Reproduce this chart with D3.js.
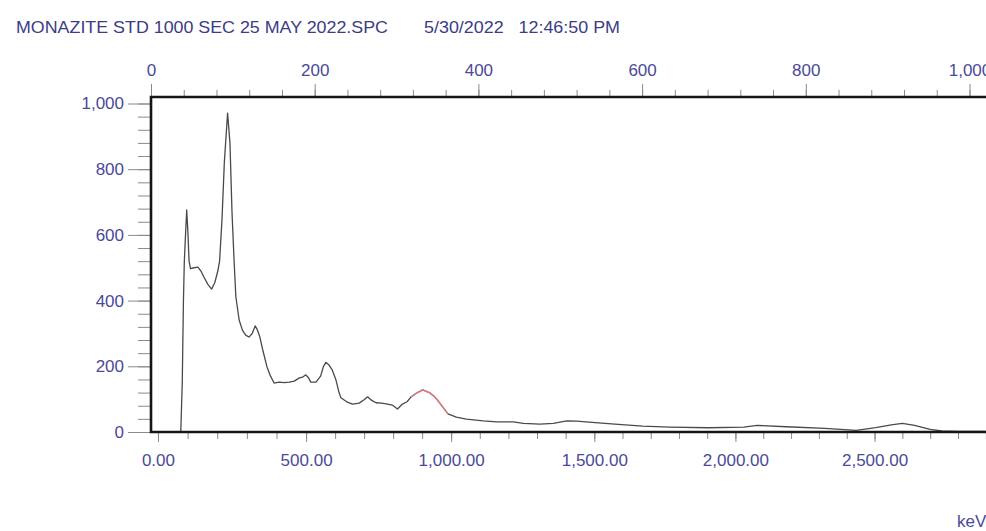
<!DOCTYPE html>
<html>
<head>
<meta charset="utf-8">
<script src="https://cdn.jsdelivr.net/npm/d3@7"></script>
<style>
  body { margin: 0; background: #fff; }
  text { font-family: "Liberation Sans", Arial, sans-serif; }
</style>
</head>
<body>
<div id="spectrum"></div>
<script>
// Spectrum readings (energy in keV, counts)
const energy = [0, 60, 77, 82, 86, 89, 93, 97, 101, 105, 110, 122, 135, 145, 155, 168, 181, 192, 202, 208,
    216, 224, 235, 243, 250, 257, 263, 274, 285, 296, 307, 318, 328, 336, 344, 355, 368, 380, 392, 409,
    426, 443, 460, 476, 490, 499, 508, 516, 534, 550, 560, 568, 578, 590, 603, 612, 620, 640, 660, 683,
    700, 712, 725, 741, 760, 781, 797, 815, 832, 848, 862, 880, 902, 925, 943, 955, 966, 978, 989, 1018,
    1053, 1112, 1159, 1217, 1252, 1310, 1357, 1404, 1439, 1481, 1561, 1671, 1768, 1905, 2030, 2078, 2183, 2322,
    2434, 2504, 2560, 2600, 2644, 2700, 2742, 2800, 2900];
const counts = [0, 0, 0, 150, 400, 520, 600, 676, 610, 520, 497, 500, 502, 490, 472, 450, 435, 455, 490, 520,
    645, 820, 971, 880, 667, 520, 411, 341, 310, 295, 289, 300, 323, 310, 289, 245, 198, 170, 149, 152,
    150, 152, 155, 164, 168, 174, 165, 152, 152, 170, 200, 212, 205, 189, 158, 125, 104, 92, 85, 88,
    98, 107, 97, 89, 88, 85, 82, 70, 85, 92, 107, 118, 128, 120, 107, 95, 82, 68, 55, 45,
    39, 34, 31, 31, 26, 24, 26, 34, 33, 30, 25, 18, 15, 13, 15, 20, 16, 11,
    5, 13, 22, 26, 20, 8, 3, 2, 2];

// Region of interest (highlighted in red)
const roi = [862, 989];

// Energy calibration: keV vs channel
const calEnergy = [0, 500, 1000, 1500, 2000, 2500];
const calChannel = [8.5, 189.5, 366.7, 541.6, 714, 884];

// Tick values
const channelTicks = d3.range(0, 1041, 40);
const channelMajor = d3.range(0, 1001, 200);
const energyTicks = d3.range(0, 2901, 100);
const energyMajor = d3.range(0, 2501, 500);
const countTicks = d3.range(0, 1001, 40);
const countMajor = d3.range(0, 1001, 200);

const title = "MONAZITE STD 1000 SEC 25 MAY 2022.SPC";
const stamp = "5/30/2022   12:46:50 PM";

const width = 986;
const height = 531;
const labelColor = "#4a4a98";
const tickColor = "#8a8a8a";

const svg = d3.select("#spectrum")
    .append("svg")
    .attr("width", width)
    .attr("height", height)
    .style("background", "white");

// Scales
const x = d3.scaleLinear()
    .domain([0, 1000])
    .range([151, 969.5]);

const xE = d3.scaleLinear()
    .domain(calEnergy)
    .range(calChannel.map(c => x(c)));

const yMax = 1020;
const y = d3.scaleLinear()
    .domain([0, 1000])
    .range([432, 103.5]);

// Axis helper: draws ticks, removes the domain line
function drawAxis(axis, transform, cls) {
    const g = svg.append("g")
        .attr("class", cls)
        .attr("transform", transform)
        .call(axis);
    g.select(".domain").remove();
    g.selectAll(".tick line").attr("stroke", tickColor);
    g.selectAll("text")
        .attr("fill", labelColor)
        .style("font-size", "17px");
    return g;
}

// Top axis (channels)
drawAxis(d3.axisTop(x).tickValues(channelTicks).tickSize(7).tickFormat(""), `translate(0,${y(yMax)})`);
drawAxis(d3.axisTop(x).tickValues(channelMajor).tickSize(13).tickPadding(8).tickFormat(d3.format(",")), `translate(0,${y(yMax)})`);

// Bottom axis (keV)
drawAxis(d3.axisBottom(xE).tickValues(energyTicks).tickSize(7).tickFormat(""), `translate(0,${y(0)})`);
drawAxis(d3.axisBottom(xE).tickValues(energyMajor).tickSize(10).tickPadding(12).tickFormat(d3.format(",.2f")), `translate(0,${y(0)})`);

// Left axis (counts)
drawAxis(d3.axisLeft(y).tickValues(countTicks).tickSize(13).tickFormat(""), `translate(${x(0)},0)`);
drawAxis(d3.axisLeft(y).tickValues(countMajor).tickSize(23).tickPadding(4).tickFormat(d3.format(",")), `translate(${x(0)},0)`);

// Spectrum line
const data = energy.map((e, i) => ({ e, c: counts[i] }));
const line = d3.line()
    .x(d => xE(d.e))
    .y(d => y(d.c));

svg.append("path")
    .datum(data)
    .attr("fill", "none")
    .attr("stroke", "#4a4a4a")
    .attr("stroke-width", 1.3)
    .attr("stroke-linejoin", "round")
    .attr("d", line);

svg.append("path")
    .datum(data.filter(d => d.e >= roi[0] && d.e <= roi[1]))
    .attr("fill", "none")
    .attr("stroke", "#e07f86")
    .attr("stroke-width", 1.4)
    .attr("stroke-linejoin", "round")
    .attr("d", line);

// Frame (left, top, bottom)
svg.append("path")
    .attr("fill", "none")
    .attr("stroke", "#151515")
    .attr("stroke-width", 2.6)
    .attr("d", `M${width + 5},${y(yMax)}H${x(0)}V${y(0)}H${width + 5}`);

// Header texts
svg.append("text")
    .attr("x", 16)
    .attr("y", 33)
    .attr("fill", "#3c3c86")
    .style("font-size", "17px")
    .attr("textLength", 372)
    .attr("lengthAdjust", "spacingAndGlyphs")
    .text(title);

svg.append("text")
    .attr("x", 424)
    .attr("y", 33)
    .attr("fill", "#3c3c86")
    .style("font-size", "17px")
    .style("white-space", "pre")
    .attr("textLength", 196)
    .attr("lengthAdjust", "spacingAndGlyphs")
    .text(stamp);

// Unit label
svg.append("text")
    .attr("x", 957)
    .attr("y", 527)
    .attr("fill", labelColor)
    .style("font-size", "17px")
    .text("keV");
</script>
</body>
</html>
